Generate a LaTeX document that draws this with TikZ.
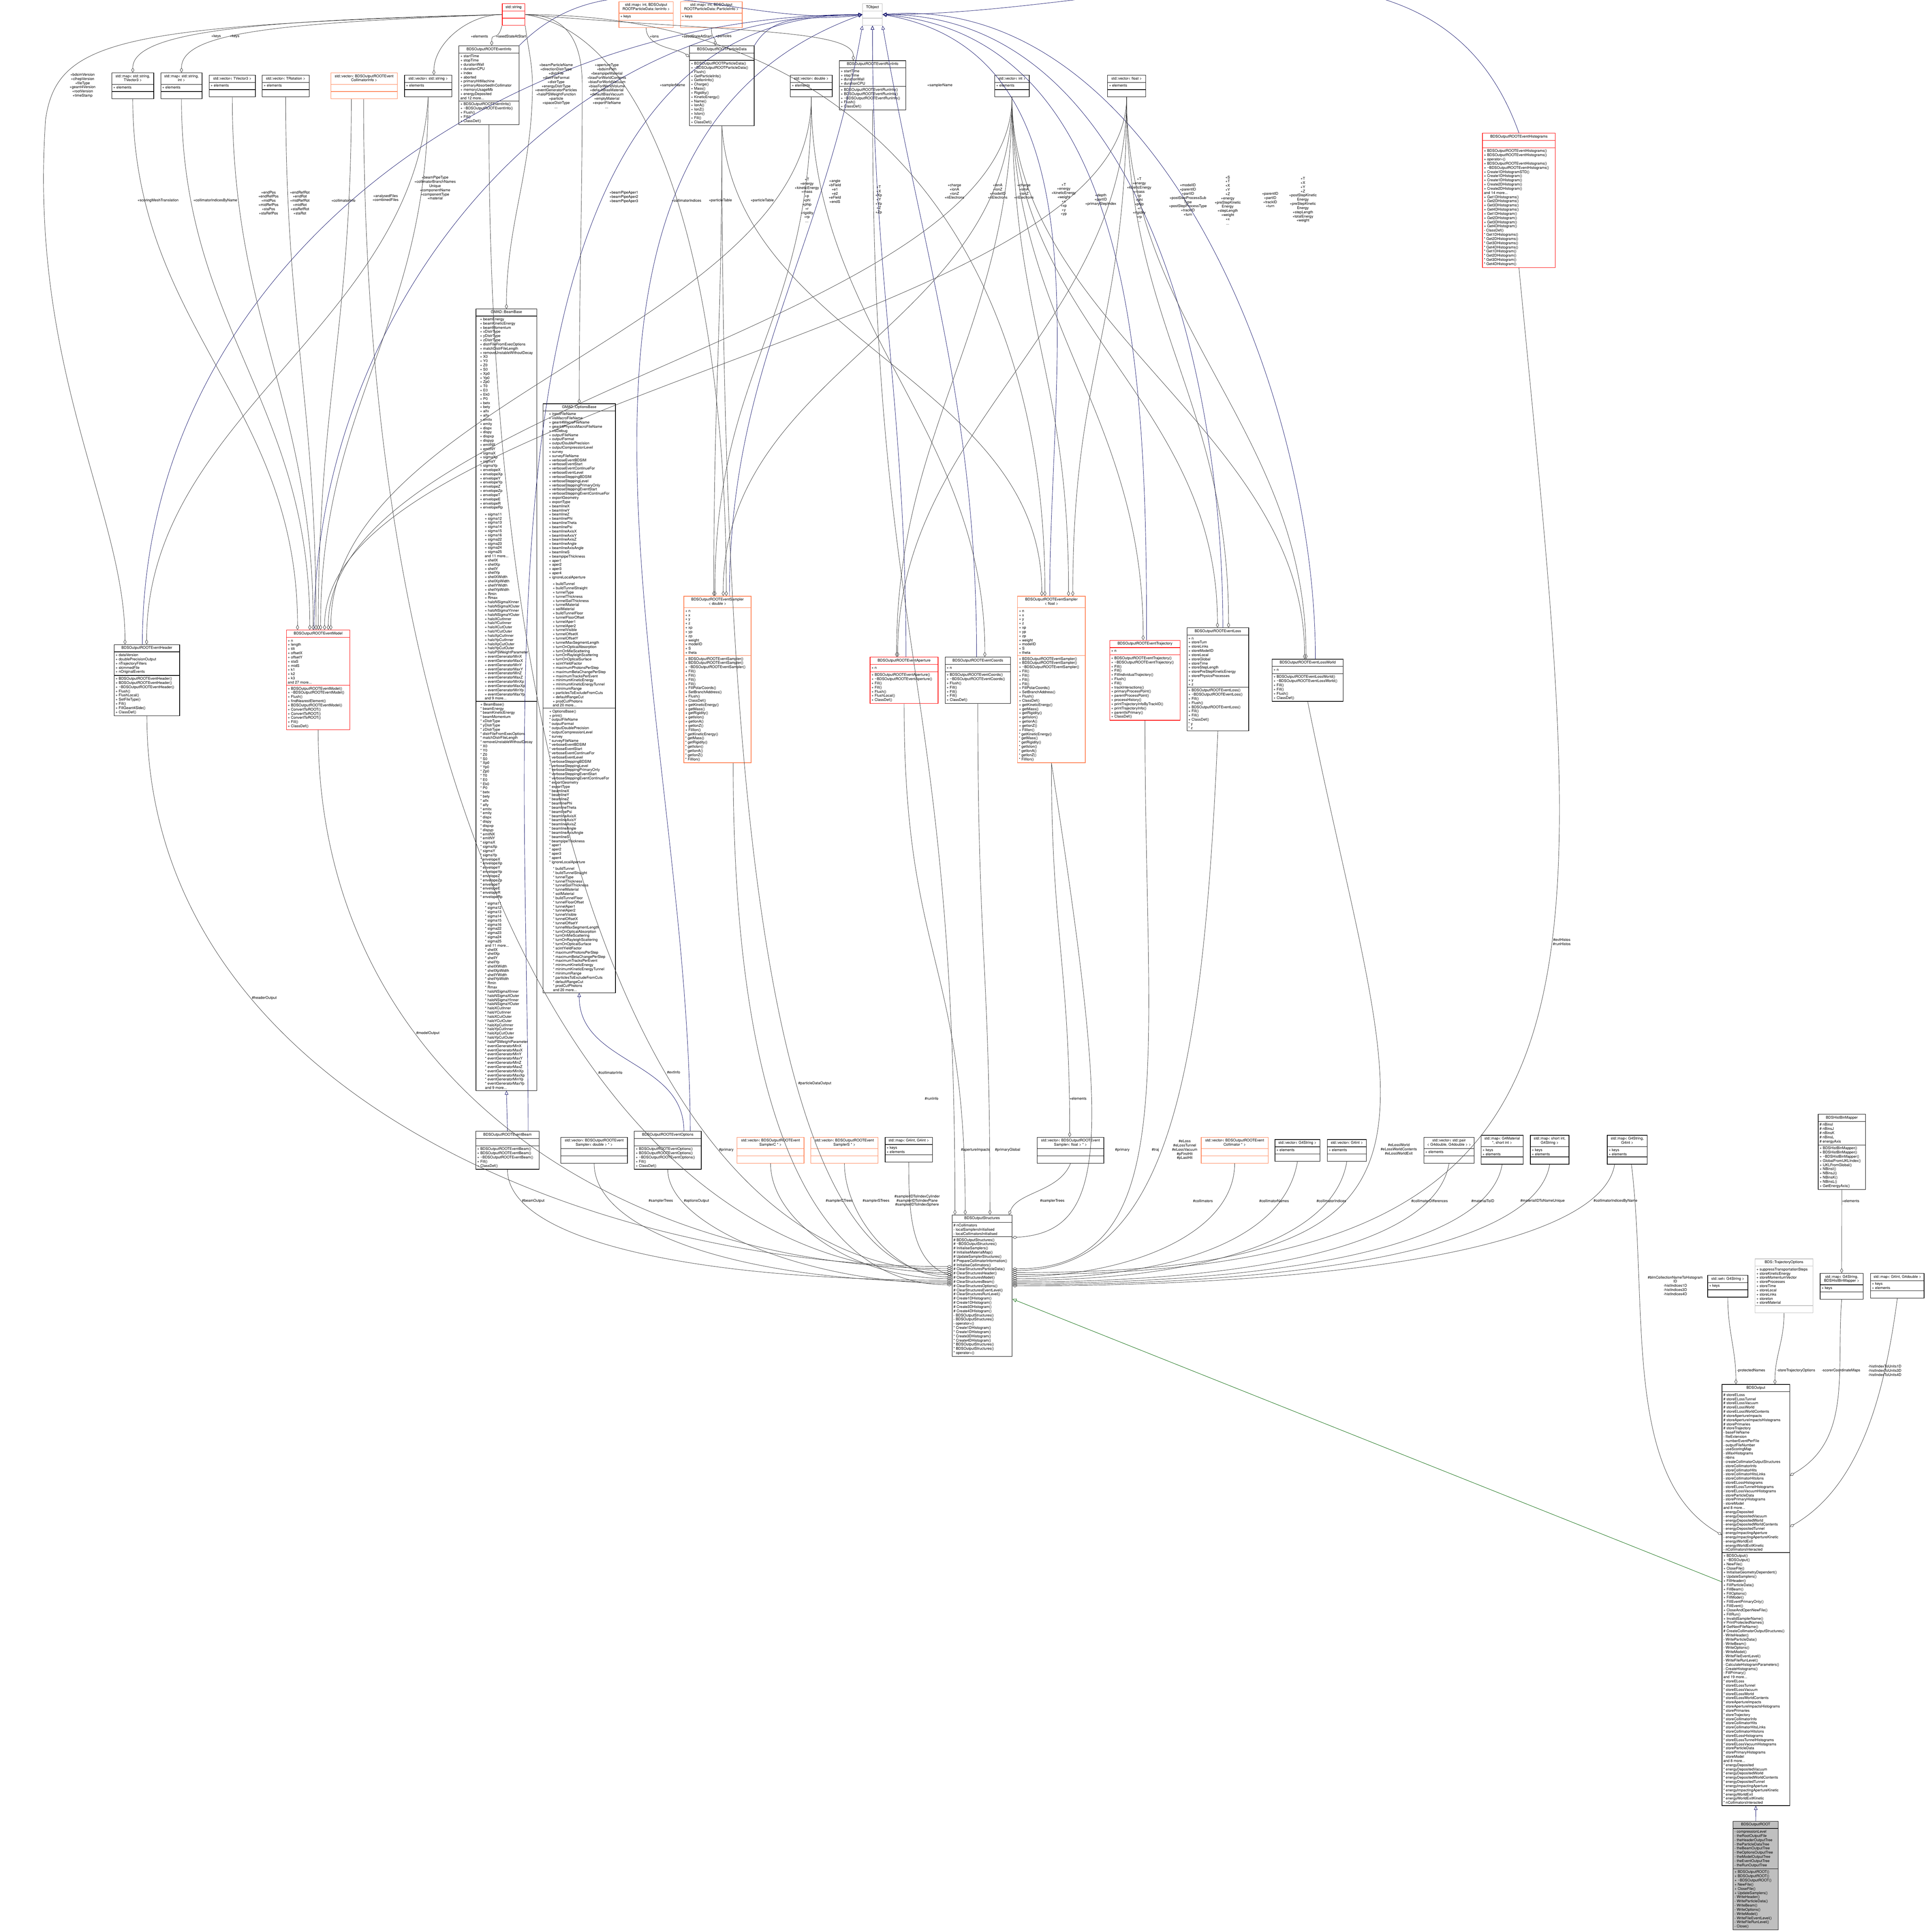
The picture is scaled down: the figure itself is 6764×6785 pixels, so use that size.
\documentclass[tikz,border=0pt]{standalone}
\usepackage{fontspec}
\newfontfamily\umlfont{TeX Gyre Heros}
\usetikzlibrary{shapes.multipart,arrows.meta,calc}

\definecolor{edgeblue}{HTML}{191970}
\definecolor{edgegray}{HTML}{404040}
\definecolor{edgegreen}{HTML}{006400}
\definecolor{boxred}{HTML}{FF0000}
\definecolor{boxorange}{HTML}{FF7F50}
\definecolor{boxgray}{HTML}{BFBFBF}

\newcommand{\dtor}{\textasciitilde}
\newcommand{\twolines}[2]{\begin{tabular}{@{}c@{}}#1\\{}#2\end{tabular}}
% one class box: name, x, y (top left), width, look, title, attributes, operations
\newcommand{\classbox}[8]{%
  \node[umlclass,#5,minimum width={#4*0.01cm}] (#1) at (#2,#3)
    {\strut#6\nodepart{two}\strut#7\nodepart{three}\strut#8};}

% fields of GMAD::BeamBase, in two halves
\newcommand{\beamfieldsA}[1]{#1 beamEnergy\\{}#1 beamKineticEnergy\\{}#1 beamMomentum\\{}#1 xDistrType\\{}#1 yDistrType\\{}#1 zDistrType\\{}#1 distrFileFromExecOptions\\{}#1 matchDistrFileLength\\{}#1 removeUnstableWithoutDecay\\{}#1 X0\\{}#1 Y0\\{}#1 Z0\\{}#1 S0\\{}#1 Xp0\\{}#1 Yp0\\{}#1 Zp0\\{}#1 T0\\{}#1 E0\\{}#1 Ek0\\{}#1 P0\\{}#1 betx\\{}#1 bety\\{}#1 alfx\\{}#1 alfy\\{}#1 emitx\\{}#1 emity\\{}#1 dispx\\{}#1 dispy\\{}#1 dispxp\\{}#1 dispyp\\{}#1 emitNX\\{}#1 emitNY\\{}#1 sigmaX\\{}#1 sigmaXp\\{}#1 sigmaY\\{}#1 sigmaYp\\{}#1 envelopeX\\{}#1 envelopeXp\\{}#1 envelopeY\\{}#1 envelopeYp\\{}#1 envelopeZ\\{}#1 envelopeZp\\{}#1 envelopeT\\{}#1 envelopeE\\{}#1 envelopeR\\{}#1 envelopeRp}
\newcommand{\beamfieldsB}[1]{#1 sigma11\\{}#1 sigma12\\{}#1 sigma13\\{}#1 sigma14\\{}#1 sigma15\\{}#1 sigma16\\{}#1 sigma22\\{}#1 sigma23\\{}#1 sigma24\\{}#1 sigma25\\and 11 more...\\{}#1 shellX\\{}#1 shellXp\\{}#1 shellY\\{}#1 shellYp\\{}#1 shellXWidth\\{}#1 shellXpWidth\\{}#1 shellYWidth\\{}#1 shellYpWidth\\{}#1 Rmin\\{}#1 Rmax\\{}#1 haloNSigmaXInner\\{}#1 haloNSigmaXOuter\\{}#1 haloNSigmaYInner\\{}#1 haloNSigmaYOuter\\{}#1 haloXCutInner\\{}#1 haloYCutInner\\{}#1 haloXCutOuter\\{}#1 haloYCutOuter\\{}#1 haloXpCutInner\\{}#1 haloYpCutInner\\{}#1 haloXpCutOuter\\{}#1 haloYpCutOuter\\{}#1 haloPSWeightParameter\\{}#1 eventGeneratorMinX\\{}#1 eventGeneratorMaxX\\{}#1 eventGeneratorMinY\\{}#1 eventGeneratorMaxY\\{}#1 eventGeneratorMinZ\\{}#1 eventGeneratorMaxZ\\{}#1 eventGeneratorMinXp\\{}#1 eventGeneratorMaxXp\\{}#1 eventGeneratorMinYp\\{}#1 eventGeneratorMaxYp\\and 9 more...}
% fields of GMAD::OptionsBase, in two halves
\newcommand{\optfieldsA}[1]{#1 outputFileName\\{}#1 outputFormat\\{}#1 outputDoublePrecision\\{}#1 outputCompressionLevel\\{}#1 survey\\{}#1 surveyFileName\\{}#1 verboseEventBDSIM\\{}#1 verboseEventStart\\{}#1 verboseEventContinueFor\\{}#1 verboseEventLevel\\{}#1 verboseSteppingBDSIM\\{}#1 verboseSteppingLevel\\{}#1 verboseSteppingPrimaryOnly\\{}#1 verboseSteppingEventStart\\{}#1 verboseSteppingEventContinueFor\\{}#1 exportGeometry\\{}#1 exportType\\{}#1 beamlineX\\{}#1 beamlineY\\{}#1 beamlineZ\\{}#1 beamlinePhi\\{}#1 beamlineTheta\\{}#1 beamlinePsi\\{}#1 beamlineAxisX\\{}#1 beamlineAxisY\\{}#1 beamlineAxisZ\\{}#1 beamlineAngle\\{}#1 beamlineAxisAngle\\{}#1 beamlineS\\{}#1 beampipeThickness\\{}#1 aper1\\{}#1 aper2\\{}#1 aper3\\{}#1 aper4\\{}#1 ignoreLocalAperture}
\newcommand{\optfieldsB}[1]{#1 buildTunnel\\{}#1 buildTunnelStraight\\{}#1 tunnelType\\{}#1 tunnelThickness\\{}#1 tunnelSoilThickness\\{}#1 tunnelMaterial\\{}#1 soilMaterial\\{}#1 buildTunnelFloor\\{}#1 tunnelFloorOffset\\{}#1 tunnelAper1\\{}#1 tunnelAper2\\{}#1 tunnelVisible\\{}#1 tunnelOffsetX\\{}#1 tunnelOffsetY\\{}#1 tunnelMaxSegmentLength\\{}#1 turnOnOpticalAbsorption\\{}#1 turnOnMieScattering\\{}#1 turnOnRayleighScattering\\{}#1 turnOnOpticalSurface\\{}#1 scintYieldFactor\\{}#1 maximumPhotonsPerStep\\{}#1 maximumBetaChangePerStep\\{}#1 maximumTracksPerEvent\\{}#1 minimumKineticEnergy\\{}#1 minimumKineticEnergyTunnel\\{}#1 minimumRange\\{}#1 particlesToExcludeFromCuts\\{}#1 defaultRangeCut\\{}#1 prodCutPhotons\\and 20 more...}
% the sampler template
\newcommand{\samplerattrs}{+ n\\+ x\\+ y\\+ z\\+ xp\\+ yp\\+ zp\\+ weight\\+ modelID\\+ S\\+ theta}
\newcommand{\samplerops}{+ BDSOutputROOTEventSampler()\\+ BDSOutputROOTEventSampler()\\+ \dtor BDSOutputROOTEventSampler()\\+ Fill()\\+ Fill()\\+ Fill()\\+ Fill()\\+ FillPolarCoords()\\+ SetBranchAddress()\\+ Flush()\\+ ClassDef()\\+ getKineticEnergy()\\+ getMass()\\+ getRigidity()\\+ getIsIon()\\+ getIonA()\\+ getIonZ()\\+ FillIon()\\{}* getKineticEnergy()\\{}* getMass()\\{}* getRigidity()\\{}* getIsIon()\\{}* getIonA()\\{}* getIonZ()\\{}* FillIon()}

\begin{document}
\begin{tikzpicture}[x=0.01cm,y=-0.01cm,
    umlclass/.style={rectangle split,rectangle split parts=3,
      rectangle split part align={center,left,left},anchor=north west,
      line width=0.5pt,inner xsep=0.05cm,inner ysep=0.045cm,align=left,
      font=\umlfont\fontsize{3.7pt}{4.18pt}\selectfont},
    chunk/.style={anchor=north west,inner xsep=0.05cm,inner ysep=0.045cm,align=left,
      font=\umlfont\fontsize{3.7pt}{4.18pt}\selectfont},
    plainbox/.style={draw=black},
    redbox/.style={draw=boxred},
    orangebox/.style={draw=boxorange},
    greybox/.style={draw=boxgray},
    rootbox/.style={draw=black,fill=boxgray},
    lbl/.style={font=\umlfont\fontsize{3.7pt}{4.18pt}\selectfont,align=center,inner sep=1pt},
    member/.style={draw=edgegray,line width=0.35pt,-{Diamond[open,length=5pt,width=3pt]}},
    inh/.style={draw=edgeblue,line width=0.35pt,-{Triangle[open,length=4pt,width=3.5pt]}},
    inhprot/.style={draw=edgegreen,line width=0.35pt,-{Triangle[open,length=4pt,width=3.5pt]}}]
\useasboundingbox (0,0) rectangle (6764,6785);
%
% top row
\classbox{str}{1763}{12}{80}{redbox}{std::string}{}{}
\classbox{ionmap}{2173}{5}{191}{orangebox}{\twolines{std::map< int, BDSOutput}{ROOTParticleData::IonInfo >}}{+ keys}{}
\classbox{partmap}{2389}{5}{217}{orangebox}{\twolines{std::map< int, BDSOutput}{ROOTParticleData::ParticleInfo >}}{+ keys}{}
\classbox{tobj}{3029}{12}{69}{greybox}{TObject}{}{}
%
% containers and info classes
\classbox{mapTV3}{392}{255}{147}{plainbox}{\twolines{std::map< std::string,}{TVector3 >}}{+ elements}{}
\classbox{mapSI}{564}{255}{145}{plainbox}{\twolines{std::map< std::string,}{int >}}{+ elements}{}
\classbox{vecTV3}{734}{263}{162}{plainbox}{std::vector< TVector3 >}{+ elements}{}
\classbox{vecTR}{920}{263}{165}{plainbox}{std::vector< TRotation >}{+ elements}{}
\classbox{vecCI}{1161}{255}{234}{orangebox}{\twolines{std::vector< BDSOutputROOTEvent}{CollimatorInfo >}}{}{}
\classbox{vecStr}{1420}{263}{166}{plainbox}{std::vector< std::string >}{+ elements}{}
\classbox{evInfo}{1611}{160}{211}{plainbox}{BDSOutputROOTEventInfo}{+ startTime\\+ stopTime\\+ durationWall\\+ durationCPU\\+ index\\+ aborted\\+ primaryHitMachine\\+ primaryAbsorbedInCollimator\\+ memoryUsageMb\\+ energyDeposited\\and 12 more...}{+ BDSOutputROOTEventInfo()\\+ \dtor BDSOutputROOTEventInfo()\\+ Flush()\\+ Fill()\\+ ClassDef()}
\classbox{partData}{2421}{160}{227}{plainbox}{BDSOutputROOTParticleData}{}{+ BDSOutputROOTParticleData()\\+ \dtor BDSOutputROOTParticleData()\\+ Flush()\\+ GetParticleInfo()\\+ GetIonInfo()\\+ Charge()\\+ Mass()\\+ Rigidity()\\+ KineticEnergy()\\+ Name()\\+ IonA()\\+ IonZ()\\+ IsIon()\\+ Fill()\\+ ClassDef()}
\classbox{vecD}{2775}{263}{147}{plainbox}{std::vector< double >}{+ elements}{}
\classbox{runInfo}{2947}{212}{234}{plainbox}{BDSOutputROOTEventRunInfo}{+ startTime\\+ stopTime\\+ durationWall\\+ durationCPU}{+ BDSOutputROOTEventRunInfo()\\+ BDSOutputROOTEventRunInfo()\\+ \dtor BDSOutputROOTEventRunInfo()\\+ Flush()\\+ ClassDef()}
\classbox{vecI}{3493}{263}{121}{plainbox}{std::vector< int >}{+ elements}{}
\classbox{vecF}{3889}{263}{134}{plainbox}{std::vector< float >}{+ elements}{}
\classbox{hist}{5206}{467}{256}{redbox}{BDSOutputROOTEventHistograms}{}{+ BDSOutputROOTEventHistograms()\\+ BDSOutputROOTEventHistograms()\\+ operator=()\\+ BDSOutputROOTEventHistograms()\\+ \dtor BDSOutputROOTEventHistograms()\\+ Create1DHistogramSTD()\\+ Create1DHistogram()\\+ Create1DHistogram()\\+ Create2DHistogram()\\+ Create2DHistogram()\\and 14 more...\\+ Get1DHistograms()\\+ Get2DHistograms()\\+ Get3DHistograms()\\+ Get4DHistograms()\\+ Get1DHistogram()\\+ Get2DHistogram()\\+ Get3DHistogram()\\+ Get4DHistogram()\\- ClassDef()\\{}* Get1DHistograms()\\{}* Get2DHistograms()\\{}* Get3DHistograms()\\{}* Get4DHistograms()\\{}* Get1DHistogram()\\{}* Get2DHistogram()\\{}* Get3DHistogram()\\{}* Get4DHistogram()}
%
% GMAD::BeamBase, set in pieces
\node[chunk,align=center,minimum width=2.12cm] (bbT) at (1672,1085) {\strut GMAD::BeamBase};
\node[chunk,minimum width=2.12cm] (bbA1) at (bbT.south west) {\strut\beamfieldsA{+}};
\node[chunk,minimum width=2.12cm] (bbA2) at (bbA1.south west) {\strut\beamfieldsB{+}};
\node[chunk,minimum width=2.12cm] (bbO1) at (bbA2.south west) {\strut+ BeamBase()\\\beamfieldsA{*}};
\node[chunk,minimum width=2.12cm] (bbO2) at (bbO1.south west) {\strut\beamfieldsB{*}};
\draw[line width=0.5pt] (bbT.north west) rectangle (bbO2.south east);
\draw[line width=0.5pt] (bbT.south west) -- (bbT.south east);
\draw[line width=0.5pt] (bbA2.south west) -- (bbA2.south east);
%
% GMAD::OptionsBase, set in pieces
\node[chunk,align=center,minimum width=2.53cm] (obT) at (1907,1418) {\strut GMAD::OptionsBase};
\node[chunk,minimum width=2.53cm] (obA1) at (obT.south west) {\strut+ inputFileName\\+ visMacroFileName\\+ geant4MacroFileName\\+ geant4PhysicsMacroFileName\\+ visDebug\\\optfieldsA{+}};
\node[chunk,minimum width=2.53cm] (obA2) at (obA1.south west) {\strut\optfieldsB{+}};
\node[chunk,minimum width=2.53cm] (obO1) at (obA2.south west) {\strut+ OptionsBase()\\+ print()\\\optfieldsA{*}};
\node[chunk,minimum width=2.53cm] (obO2) at (obO1.south west) {\strut\optfieldsB{*}};
\draw[line width=0.5pt] (obT.north west) rectangle (obO2.south east);
\draw[line width=0.5pt] (obT.south west) -- (obT.south east);
\draw[line width=0.5pt] (obA2.south west) -- (obA2.south east);
%
% event level classes
\classbox{header}{400}{2263}{230}{plainbox}{BDSOutputROOTEventHeader}{+ dataVersion\\+ doublePrecisionOutput\\+ nTrajectoryFilters\\+ skimmedFile\\+ nOriginalEvents}{+ BDSOutputROOTEventHeader()\\+ BDSOutputROOTEventHeader()\\+ \dtor BDSOutputROOTEventHeader()\\+ Flush()\\+ FlushLocal()\\+ SetFileType()\\+ Fill()\\+ FillGeant4Side()\\+ ClassDef()}
\classbox{model}{1005}{2212}{223}{redbox}{BDSOutputROOTEventModel}{+ n\\+ length\\+ tilt\\+ offsetX\\+ offsetY\\+ staS\\+ midS\\+ k1\\+ k2\\+ k3\\and 27 more...}{+ BDSOutputROOTEventModel()\\+ \dtor BDSOutputROOTEventModel()\\+ Flush()\\+ findNearestElement()\\+ BDSOutputROOTEventModel()\\+ ConvertToROOT()\\+ ConvertToROOT()\\+ ConvertToROOT()\\+ Fill()\\+ ClassDef()}
\classbox{sampD}{2401}{2093}{236}{orangebox}{\twolines{BDSOutputROOTEventSampler}{< double >}}{\samplerattrs}{\samplerops}
\classbox{aper}{3055}{2307}{239}{redbox}{BDSOutputROOTEventAperture}{+ n}{+ BDSOutputROOTEventAperture()\\+ \dtor BDSOutputROOTEventAperture()\\+ Fill()\\+ Fill()\\+ Flush()\\+ FlushLocal()\\+ ClassDef()}
\classbox{coords}{3319}{2307}{229}{plainbox}{BDSOutputROOTEventCoords}{+ n}{+ BDSOutputROOTEventCoords()\\+ \dtor BDSOutputROOTEventCoords()\\+ Flush()\\+ Fill()\\+ Fill()\\+ Fill()\\+ ClassDef()}
\classbox{sampF}{3573}{2093}{238}{orangebox}{\twolines{BDSOutputROOTEventSampler}{< float >}}{\samplerattrs}{\samplerops}
\classbox{traj}{3897}{2248}{247}{redbox}{BDSOutputROOTEventTrajectory}{+ n}{+ BDSOutputROOTEventTrajectory()\\+ \dtor BDSOutputROOTEventTrajectory()\\+ Fill()\\+ Fill()\\+ FillIndividualTrajectory()\\+ Flush()\\+ Fill()\\+ trackInteractions()\\+ primaryProcessPoint()\\+ parentProcessPoint()\\+ processHistory()\\+ printTrajectoryInfoByTrackID()\\+ printTrajectoryInfo()\\+ parentIsPrimary()\\+ ClassDef()}
\classbox{loss}{4168}{2204}{217}{plainbox}{BDSOutputROOTEventLoss}{+ n\\+ storeTurn\\+ storeLinks\\+ storeModelID\\+ storeLocal\\+ storeGlobal\\+ storeTime\\+ storeStepLength\\+ storePreStepKineticEnergy\\+ storePhysicsProcesses\\+ y\\+ z}{+ BDSOutputROOTEventLoss()\\+ \dtor BDSOutputROOTEventLoss()\\+ Fill()\\+ Flush()\\+ BDSOutputROOTEventLoss()\\+ Fill()\\+ Fill()\\+ ClassDef()\\{}* y\\{}* z}
\classbox{lossW}{4467}{2314}{250}{plainbox}{BDSOutputROOTEventLossWorld}{+ n}{+ BDSOutputROOTEventLossWorld()\\+ \dtor BDSOutputROOTEventLossWorld()\\+ Fill()\\+ Fill()\\+ Flush()\\+ ClassDef()}
%
% lower row
\classbox{evBeam}{1670}{3972}{223}{plainbox}{BDSOutputROOTEventBeam}{}{+ BDSOutputROOTEventBeam()\\+ BDSOutputROOTEventBeam()\\+ \dtor BDSOutputROOTEventBeam()\\+ Fill()\\+ ClassDef()}
\classbox{vecSampD}{1969}{3993}{234}{plainbox}{\twolines{std::vector< BDSOutputROOTEvent}{Sampler< double > * >}}{}{}
\classbox{evOpts}{2227}{3972}{235}{plainbox}{BDSOutputROOTEventOptions}{}{+ BDSOutputROOTEventOptions()\\+ BDSOutputROOTEventOptions()\\+ \dtor BDSOutputROOTEventOptions()\\+ Fill()\\+ ClassDef()}
\classbox{vecSampC}{2588}{3993}{235}{orangebox}{\twolines{std::vector< BDSOutputROOTEvent}{SamplerC * >}}{}{}
\classbox{vecSampS}{2847}{3993}{236}{orangebox}{\twolines{std::vector< BDSOutputROOTEvent}{SamplerS * >}}{}{}
\classbox{mapII}{3108}{3993}{166}{plainbox}{std::map< G4int, G4int >}{+ keys\\+ elements}{}
\classbox{vecSampF}{3642}{3993}{234}{plainbox}{\twolines{std::vector< BDSOutputROOTEvent}{Sampler< float > * >}}{}{}
\classbox{vecColl}{4218}{3993}{235}{orangebox}{\twolines{std::vector< BDSOutputROOTEvent}{Collimator * >}}{}{}
\classbox{vecG4S}{4477}{4001}{158}{plainbox}{std::vector< G4String >}{+ elements}{}
\classbox{vecG4I}{4661}{4001}{137}{plainbox}{std::vector< G4int >}{+ elements}{}
\classbox{vecPair}{5000}{3993}{177}{plainbox}{\twolines{std::vector< std::pair}{< G4double, G4double > >}}{+ elements}{}
\classbox{mapMat}{5201}{3986}{148}{plainbox}{\twolines{std::map< G4Material}{*, short int >}}{+ keys\\+ elements}{}
\classbox{mapShort}{5374}{3986}{136}{plainbox}{\twolines{std::map< short int,}{G4String >}}{+ keys\\+ elements}{}
\classbox{mapSI4}{5644}{3986}{141}{plainbox}{\twolines{std::map< G4String,}{G4int >}}{+ keys\\+ elements}{}
\classbox{binMap}{6385}{3912}{166}{plainbox}{BDSHistBinMapper}{\# nBinsI\\\# nBinsJ\\\# nBinsK\\\# nBinsL\\\# energyAxis}{+ BDSHistBinMapper()\\+ BDSHistBinMapper()\\+ \dtor BDSHistBinMapper()\\+ GlobalFromIJKLIndex()\\+ IJKLFromGlobal()\\+ NBinsI()\\+ NBinsJ()\\+ NBinsK()\\+ NBinsL()\\+ GetEnergyAxis()}
\classbox{setS}{5997}{4478}{141}{plainbox}{std::set< G4String >}{+ keys}{}
\classbox{trajOpt}{6163}{4420}{204}{greybox}{BDS::TrajectoryOptions}{+ suppressTransportationSteps\\+ storeKineticEnergy\\+ storeMomentumVector\\+ storeProcesses\\+ storeTime\\+ storeLocal\\+ storeLinks\\+ storeIon\\+ storeMaterial}{}
\classbox{mapBHM}{6392}{4471}{151}{plainbox}{\twolines{std::map< G4String,}{BDSHistBinMapper >}}{+ keys}{}
\classbox{mapID}{6569}{4471}{188}{plainbox}{std::map< G4int, G4double >}{+ keys\\+ elements}{}
%
% output classes
\classbox{struct}{3343}{4266}{211}{plainbox}{BDSOutputStructures}{\# nCollimators\\- localSamplersInitialised\\- localCollimatorsInitialised}{\# BDSOutputStructures()\\\# \dtor BDSOutputStructures()\\\# InitialiseSamplers()\\\# InitialiseMaterialMap()\\\# UpdateSamplerStructures()\\\# PrepareCollimatorInformation()\\\# InitialiseCollimators()\\\# ClearStructuresParticleData()\\\# ClearStructuresHeader()\\\# ClearStructuresModel()\\\# ClearStructuresBeam()\\\# ClearStructuresOptions()\\\# ClearStructuresEventLevel()\\\# ClearStructuresRunLevel()\\\# Create1DHistogram()\\\# Create1DHistogram()\\\# Create3DHistogram()\\\# Create4DHistogram()\\- BDSOutputStructures()\\- BDSOutputStructures()\\- operator=()\\{}* Create1DHistogram()\\{}* Create1DHistogram()\\{}* Create3DHistogram()\\{}* Create4DHistogram()\\{}* BDSOutputStructures()\\{}* BDSOutputStructures()\\{}* operator=()}
\classbox{output}{6047}{4861}{238}{plainbox}{BDSOutput}{\# storeELoss\\\# storeELossTunnel\\\# storeELossVacuum\\\# storeELossWorld\\\# storeELossWorldContents\\\# storeApertureImpacts\\\# storeApertureImpactsHistograms\\\# storePrimaries\\\# storeTrajectory\\- baseFileName\\- fileExtension\\- numberEventPerFile\\- outputFileNumber\\- useScoringMap\\- sMaxHistograms\\- nbins\\- createCollimatorOutputStructures\\- storeCollimatorInfo\\- storeCollimatorHits\\- storeCollimatorHitsLinks\\- storeCollimatorHitsIons\\- storeELossHistograms\\- storeELossTunnelHistograms\\- storeELossVacuumHistograms\\- storeParticleData\\- storePrimaryHistograms\\- storeModel\\and 8 more...\\- energyDeposited\\- energyDepositedVacuum\\- energyDepositedWorld\\- energyDepositedWorldContents\\- energyDepositedTunnel\\- energyImpactingAperture\\- energyImpactingApertureKinetic\\- energyWorldExit\\- energyWorldExitKinetic\\- nCollimatorsInteracted}{+ BDSOutput()\\+ \dtor BDSOutput()\\+ NewFile()\\+ CloseFile()\\+ InitialiseGeometryDependent()\\+ UpdateSamplers()\\+ FillHeader()\\+ FillParticleData()\\+ FillBeam()\\+ FillOptions()\\+ FillModel()\\+ FillEventPrimaryOnly()\\+ FillEvent()\\+ CloseAndOpenNewFile()\\+ FillRun()\\+ InvalidSamplerName()\\+ PrintProtectedNames()\\\# GetNextFileName()\\\# CreateCollimatorOutputStructures()\\- WriteHeader()\\- WriteParticleData()\\- WriteBeam()\\- WriteOptions()\\- WriteModel()\\- WriteFileEventLevel()\\- WriteFileRunLevel()\\- CalculateHistogramParameters()\\- CreateHistograms()\\- FillPrimary()\\and 19 more...\\{}* storeELoss\\{}* storeELossTunnel\\{}* storeELossVacuum\\{}* storeELossWorld\\{}* storeELossWorldContents\\{}* storeApertureImpacts\\{}* storeApertureImpactsHistograms\\{}* storePrimaries\\{}* storeTrajectory\\{}* storeCollimatorInfo\\{}* storeCollimatorHits\\{}* storeCollimatorHitsLinks\\{}* storeCollimatorHitsIons\\{}* storeELossHistograms\\{}* storeELossTunnelHistograms\\{}* storeELossVacuumHistograms\\{}* storeParticleData\\{}* storePrimaryHistograms\\{}* storeModel\\and 8 more...\\{}* energyDeposited\\{}* energyDepositedVacuum\\{}* energyDepositedWorld\\{}* energyDepositedWorldContents\\{}* energyDepositedTunnel\\{}* energyImpactingAperture\\{}* energyImpactingApertureKinetic\\{}* energyWorldExit\\{}* energyWorldExitKinetic\\{}* nCollimatorsInteracted}
\classbox{outRoot}{6086}{6395}{159}{rootbox}{BDSOutputROOT}{- compressionLevel\\- theRootOutputFile\\- theHeaderOutputTree\\- theParticleDataTree\\- theBeamOutputTree\\- theOptionsOutputTree\\- theModelOutputTree\\- theEventOutputTree\\- theRunOutputTree}{+ BDSOutputROOT()\\+ BDSOutputROOT()\\+ \dtor BDSOutputROOT()\\+ NewFile()\\+ CloseFile()\\+ UpdateSamplers()\\- WriteHeader()\\- WriteParticleData()\\- WriteBeam()\\- WriteOptions()\\- WriteModel()\\- WriteFileEventLevel()\\- WriteFileRunLevel()\\- Close()}
%
% inheritance
\draw[inh] ($(header.north west)+(100,0)$) .. controls +(0,-1300) and +(-1300,0) .. (tobj.west);
\draw[inh] ($(model.north west)+(98,0)$) .. controls +(0,-1100) and +(-1100,0) .. (tobj.west);
\draw[inh] (evInfo.north east) .. controls +(330,-330) and +(-470,40) .. (tobj.west);
\draw[inh] (partData.north east) .. controls +(75,-130) and +(-150,25) .. (tobj.west);
\draw[inh] (runInfo.north) -- (tobj.south);
\draw[inh] (hist.north) .. controls +(-300,-840) and +(890,0) .. (tobj.east);
\draw[inh] ($(sampD.north west)+(161,0)$) .. controls +(0,-800) and +(-140,800) .. (tobj.south west);
\draw[inh] ($(aper.north west)+(127,0)$) .. controls +(0,-870) and +(0,870) .. (tobj.south);
\draw[inh] ($(coords.north west)+(111,0)$) .. controls +(0,-870) and +(150,850) .. (tobj.south east);
\draw[inh] ($(sampF.north west)+(114,0)$) .. controls +(0,-820) and +(800,140) .. (tobj.east);
\draw[inh] ($(traj.north west)+(130,0)$) .. controls +(0,-900) and +(900,80) .. (tobj.east);
\draw[inh] ($(loss.north west)+(127,0)$) .. controls +(0,-900) and +(900,0) .. (tobj.east);
\draw[inh] ($(lossW.north west)+(153,0)$) .. controls +(0,-950) and +(950,-80) .. (tobj.east);
\draw[inh] (evBeam.north) -- (bbO2.south);
\draw[inh] ($(evBeam.north west)+(185,0)$) .. controls +(0,-1500) and +(-1400,0) .. (tobj.west);
\draw[inh] ($(evOpts.north west)+(175,0)$) .. controls +(0,-250) and +(0,250) .. (obO2.south);
\draw[inh] ($(evOpts.north west)+(197,0)$) .. controls +(0,-1450) and +(-1300,470) .. (tobj.west);
\draw[inh] (outRoot.north) -- (output.south);
\draw[inhprot] ($(output.north west)+(0,694)$) -- ($(struct.north east)+(0,296)$);
%
% members of the top row
\draw[member] (str.west) .. controls +(-120,0) and +(0,-110) .. ($(vecStr.north west)+(104,0)$);
\node[lbl] (lbElem) at (1684,128) {+elements};
\draw[member] (str.south west) .. controls +(-15,60) and +(0,-50) .. ($(evInfo.north west)+(116,0)$);
\node[lbl] (lbSeedInfo) at (1795,128) {+seedStateAtStart};
\draw[member] (str.east) .. controls +(700,60) and +(0,-110) .. ($(runInfo.north west)+(50,0)$);
\node[lbl] (lbSeedRun) at (2447,128) {+seedStateAtStart};
\draw[member] (ionmap.south) .. controls +(0,70) and +(-40,-30) .. ($(partData.north west)+(0,40)$);
\node[lbl] (lbIons) at (2298,128) {+ions};
\draw[member] (partmap.south) .. controls +(0,40) and +(0,-30) .. ($(partData.north west)+(91,0)$);
\node[lbl] (lbParticles) at (2541,128) {+particles};
\draw[member] (str.west) .. controls +(-900,20) and +(0,-140) .. (mapTV3.north);
\node[lbl] (lbKeysA) at (759,128) {+keys};
\draw[member] (str.west) .. controls +(-800,30) and +(0,-140) .. (mapSI.north);
\node[lbl] (lbKeysB) at (824,128) {+keys};
\draw[member] (str.west) .. controls (420,90) and (200,140) .. (160,420) .. controls (100,1300) and (439,1800) .. ($(header.north west)+(39,0)$);
\node[lbl] (lbVersions) at (290,300) {+bdsimVersion\\+clhepVersion\\+fileType\\+geant4Version\\+rootVersion\\+timeStamp};
\draw[member] (str.south east) .. controls +(10,80) and +(0,-80) .. (1870,300) .. controls +(0,300) and +(0,-300) .. (bbT.north);
\node[lbl] (lbBeamStr) at (1953,302) {+beamParticleName\\+directionDistrType\\+distrFile\\+distrFileFormat\\+distrType\\+energyDistrType\\+eventGeneratorParticles\\+haloPSWeightFunction\\+particle\\+spaceDistrType\\...};
\draw[member] (str.east) .. controls +(150,0) and +(0,-150) .. (2045,300) .. controls +(0,400) and +(0,-400) .. (obT.north);
\node[lbl] (lbOptStr) at (2131,302) {+apertureType\\+bdsimPath\\+beampipeMaterial\\+biasForWorldContents\\+biasForWorldVacuum\\+biasForWorldVolume\\+defaultBiasMaterial\\+defaultBiasVacuum\\+emptyMaterial\\+exportFileName\\...};
\draw[member] (str.east) .. controls +(500,80) and +(0,-1000) .. ($(sampD.north west)+(150,0)$);
\node[lbl] (lbSampNameD) at (2362,300) {+samplerName};
\draw[member] (str.east) .. controls +(1200,0) and +(0,-1200) .. ($(sampF.north west)+(97,0)$);
\node[lbl] (lbSampNameF) at (3301,300) {+samplerName};
%
% members of the model, samplers and losses
\draw[member] (mapTV3.south) .. controls +(0,800) and +(0,-800) .. ($(model.north west)+(40,0)$);
\node[lbl] (lbMesh) at (555,705) {+scoringMeshTranslation};
\draw[member] (mapSI.south) .. controls +(0,800) and +(0,-800) .. ($(model.north west)+(83,0)$);
\node[lbl] (lbCollByName) at (756,705) {+collimatorIndicesByName};
\draw[member] (vecTV3.south) .. controls +(0,800) and +(0,-800) .. ($(model.north west)+(95,0)$);
\node[lbl] (lbPos) at (943,712) {+endPos\\+endRefPos\\+midPos\\+midRefPos\\+staPos\\+staRefPos};
\draw[member] (vecTR.south) .. controls +(0,800) and +(0,-800) .. ($(model.north west)+(105,0)$);
\node[lbl] (lbRot) at (1053,712) {+endRefRot\\+endRot\\+midRefRot\\+midRot\\+staRefRot\\+staRot};
\draw[member] ($(vecCI.south west)+(73,0)$) .. controls +(0,800) and +(0,-800) .. ($(model.north west)+(113,0)$);
\node[lbl] (lbCollInfo) at (1206,705) {+collimatorInfo};
\draw[member] (vecStr.south) .. controls +(0,800) and +(0,-800) .. ($(model.north west)+(121,0)$);
\node[lbl] (lbModelStr) at (1528,660) {+beamPipeType\\+collimatorBranchNames\\Unique\\+componentName\\+componentType\\+material};
\draw[member] (vecStr.south) .. controls +(-50,800) and +(0,-800) .. ($(header.north west)+(115,0)$);
\node[lbl] (lbFiles) at (1354,695) {+analysedFiles\\+combinedFiles};
\draw[member] (vecD.south) .. controls +(0,800) and +(0,-800) .. ($(model.north west)+(157,0)$);
\node[lbl] (lbPipeAper) at (2191,692) {+beamPipeAper1\\+beamPipeAper2\\+beamPipeAper3};
\draw[member] (vecI.south) .. controls +(0,800) and +(0,-800) .. ($(model.north west)+(148,0)$);
\node[lbl] (lbCollIdx) at (2411,705) {+collimatorIndices};
\draw[member] (vecF.south) .. controls +(0,800) and +(0,-800) .. ($(model.north west)+(135,0)$);
\node[lbl] (lbAngle) at (2932,672) {+angle\\+bField\\+e1\\+e2\\+eField\\+endS};
\draw[member] (partData.south) .. controls +(0,750) and +(0,-750) .. ($(sampD.north west)+(106,0)$);
\node[lbl] (lbTableD) at (2530,705) {+particleTable};
\draw[member] (partData.south) .. controls +(50,750) and +(0,-750) .. ($(sampF.north west)+(86,0)$);
\node[lbl] (lbTableF) at (2677,705) {+particleTable};
\draw[member] (vecD.south) .. controls +(0,800) and +(0,-800) .. ($(sampD.north west)+(110,0)$);
\node[lbl] (lbKinD) at (2834,703) {+T\\+energy\\+kineticEnergy\\+mass\\+p\\+phi\\+phip\\+r\\+rigidity\\+rp\\...};
\draw[member] (vecI.south) .. controls +(0,800) and +(0,-800) .. ($(sampD.north west)+(139,0)$);
\node[lbl] (lbIonD) at (3352,672) {+charge\\+ionA\\+ionZ\\+nElectrons};
\draw[member] (vecD.south) .. controls +(0,800) and +(0,-800) .. ($(coords.north west)+(140,0)$);
\node[lbl] (lbCoords) at (3086,702) {+T\\+X\\+Xp\\+Y\\+Yp\\+Z\\+Zp};
\draw[member] (vecI.south) .. controls +(0,800) and +(0,-800) .. ($(aper.north west)+(94,0)$);
\node[lbl] (lbIonAper) at (3504,672) {+ionA\\+ionZ\\+modelID\\+nElectrons};
\draw[member] (vecF.south) .. controls +(0,800) and +(0,-800) .. ($(aper.north west)+(98,0)$);
\node[lbl] (lbAperF) at (3736,701) {+T\\+energy\\+kineticEnergy\\+weight\\+x\\+xp\\+y\\+yp};
\draw[member] (vecI.south) .. controls +(0,800) and +(0,-800) .. ($(sampF.north west)+(180,0)$);
\node[lbl] (lbIonF) at (3596,672) {+charge\\+ionA\\+ionZ\\+nElectrons};
\draw[member] (vecF.south) .. controls +(0,800) and +(0,-800) .. ($(sampF.north west)+(195,0)$);
\node[lbl] (lbKinF) at (4001,702) {+T\\+energy\\+kineticEnergy\\+mass\\+p\\+phi\\+phip\\+r\\+rigidity\\+rp\\...};
\draw[member] (vecI.south) .. controls +(0,800) and +(0,-800) .. ($(traj.north west)+(118,0)$);
\node[lbl] (lbTrajI) at (3866,702) {+depth\\+partID\\+primaryStepIndex};
\draw[member] (vecI.south) .. controls +(0,800) and +(0,-800) .. ($(loss.north west)+(108,0)$);
\node[lbl] (lbLossI) at (4172,702) {+modelID\\+parentID\\+partID\\+postStepProcessSub\\Type\\+postStepProcessType\\+trackID\\+turn};
\draw[member] (vecF.south) .. controls +(0,800) and +(0,-800) .. ($(loss.north west)+(147,0)$);
\node[lbl] (lbLossF) at (4312,703) {+S\\+T\\+X\\+Y\\+Z\\+energy\\+preStepKinetic\\Energy\\+stepLength\\+weight\\+x\\...};
\draw[member] (vecI.south) .. controls +(0,800) and +(0,-800) .. ($(lossW.north west)+(115,0)$);
\node[lbl] (lbWorldI) at (4461,702) {+parentID\\+partID\\+trackID\\+turn};
\draw[member] (vecF.south) .. controls +(0,800) and +(0,-800) .. ($(lossW.north west)+(120,0)$);
\node[lbl] (lbWorldF) at (4576,702) {+T\\+X\\+Y\\+Z\\+postStepKinetic\\Energy\\+preStepKinetic\\Energy\\+stepLength\\+totalEnergy\\+weight};
\draw[member] (sampF.south) .. controls +(0,600) and +(0,-600) .. ($(vecSampF.north west)+(115,0)$);
\node[lbl] (lbSampElem) at (3786,3858) {+elements};
%
% members of BDSOutputStructures
\draw[member] (header.south) .. controls +(0,1300) and +(-1300,0) .. ($(struct.north west)+(0,182)$) node[lbl,pos=0.3,right] (lbHdrOut) {\#headerOutput};
\draw[member] (model.south) .. controls +(0,1200) and +(-1200,0) .. ($(struct.north west)+(0,189)$) node[lbl,pos=0.35,right] (lbModOut) {\#modelOutput};
\draw[member] (evInfo.south) .. controls +(0,2500) and +(-1000,0) .. ($(struct.north west)+(0,196)$) node[lbl,pos=0.6,right] (lbEvtInfo) {\#evtInfo};
\draw[member] ($(vecCI.south west)+(116,0)$) .. controls +(0,2600) and +(-1200,0) .. ($(struct.north west)+(0,203)$) node[lbl,pos=0.6,right] (lbCollInfoS) {\#collimatorInfo};
\draw[member] (partData.south) .. controls +(0,2600) and +(-600,0) .. ($(struct.north west)+(0,210)$) node[lbl,pos=0.6,right] (lbPartOut) {\#particleDataOutput};
\draw[member] (evBeam.south) .. controls +(0,250) and +(-900,0) .. ($(struct.north west)+(0,230)$);
\node[lbl] (lbBeamOut) at (1873,4217) {\#beamOutput};
\draw[member] (vecSampD.south) .. controls +(0,250) and +(-700,0) .. ($(struct.north west)+(0,236)$);
\node[lbl] (lbSampTrees) at (2321,4217) {\#samplerTrees};
\draw[member] (evOpts.south) .. controls +(0,200) and +(-500,0) .. ($(struct.north west)+(0,241)$);
\node[lbl] (lbOptOut) at (2446,4217) {\#optionsOutput};
\draw[member] ($(sampD.south west)+(174,0)$) .. controls +(0,1200) and +(-500,0) .. ($(struct.north west)+(0,246)$);
\node[lbl] (lbPrimary) at (2551,4038) {\#primary};
\draw[member] (vecSampC.south) .. controls +(0,200) and +(-350,0) .. ($(struct.north west)+(0,224)$);
\node[lbl] (lbCTrees) at (2948,4217) {\#samplerCTrees};
\draw[member] (vecSampS.south) .. controls +(0,180) and +(-200,0) .. ($(struct.north west)+(0,218)$);
\node[lbl] (lbSTrees) at (3077,4217) {\#samplerSTrees};
\draw[member] (mapII.south) .. controls +(0,150) and +(-150,-50) .. ($(struct.north west)+(0,214)$);
\node[lbl] (lbIdxMap) at (3221,4217) {\#samplerIDToIndexCylinder\\\#samplerIDToIndexPlane\\\#samplerIDToIndexSphere};
\draw[member] (runInfo.south) .. controls +(0,1900) and +(0,-1900) .. ($(struct.north west)+(11,0)$);
\node[lbl] (lbRunInfo) at (3272,3858) {\#runInfo};
\draw[member] (aper.south) .. controls +(0,900) and +(0,-900) .. ($(struct.north west)+(47,0)$);
\node[lbl] (lbAperImp) at (3426,4038) {\#apertureImpacts};
\draw[member] (coords.south) .. controls +(0,900) and +(0,-900) .. ($(struct.north west)+(134,0)$);
\node[lbl] (lbPrimGlob) at (3539,4038) {\#primaryGlobal};
\draw[member] (vecSampF.south) .. controls +(-40,100) and +(30,-80) .. ($(struct.north east)+(-12,0)$);
\node[lbl] (lbSampTreesF) at (3696,4218) {\#samplerTrees};
\draw[member] (sampF.south) .. controls +(200,1300) and +(350,-20) .. ($(struct.north east)+(0,80)$);
\node[lbl] (lbPrimaryF) at (3942,4038) {\#primary};
\draw[member] (traj.south) .. controls +(0,1200) and +(600,0) .. ($(struct.north east)+(0,190)$);
\node[lbl] (lbTraj) at (4058,4038) {\#traj};
\draw[member] (loss.south) .. controls +(-50,1200) and +(550,0) .. ($(struct.north east)+(0,196)$);
\node[lbl] (lbELoss) at (4161,4038) {\#eLoss\\\#eLossTunnel\\\#eLossVacuum\\\#pFirstHit\\\#pLastHit};
\draw[member] (lossW.south) .. controls +(300,1500) and +(1700,0) .. ($(struct.north east)+(0,203)$);
\node[lbl] (lbEWorld) at (4913,4036) {\#eLossWorld\\\#eLossWorldContents\\\#eLossWorldExit};
\draw[member] (hist.south) .. controls +(250,2600) and +(2200,0) .. ($(struct.north east)+(0,210)$) node[lbl,pos=0.4,right] (lbHistos) {\#evtHistos\\\#runHistos};
\draw[member] (vecColl.south) .. controls +(0,250) and +(400,0) .. ($(struct.north east)+(0,217)$);
\node[lbl] (lbColls) at (4225,4218) {\#collimators};
\draw[member] (vecG4S.south) .. controls +(-50,300) and +(500,0) .. ($(struct.north east)+(0,224)$);
\node[lbl] (lbCollNames) at (4475,4218) {\#collimatorNames};
\draw[member] (vecG4I.south) .. controls +(-50,300) and +(600,0) .. ($(struct.north east)+(0,230)$);
\node[lbl] (lbCollIdxS) at (4676,4218) {\#collimatorIndices};
\draw[member] (vecPair.south) .. controls +(-50,300) and +(800,0) .. ($(struct.north east)+(0,236)$);
\node[lbl] (lbCollDiff) at (5021,4218) {\#collimatorDifferences};
\draw[member] (mapMat.south) .. controls +(-50,300) and +(900,0) .. ($(struct.north east)+(0,241)$);
\node[lbl] (lbMatID) at (5208,4218) {\#materialToID};
\draw[member] (mapShort.south) .. controls +(-50,300) and +(1000,0) .. ($(struct.north east)+(0,246)$);
\node[lbl] (lbMatName) at (5418,4218) {\#materialIDToNameUnique};
\draw[member] ($(mapSI4.south west)+(27,0)$) .. controls +(-50,300) and +(1100,0) .. ($(struct.north east)+(0,250)$);
\node[lbl] (lbCollByNameS) at (5674,4218) {\#collimatorIndicesByName};
%
% members of BDSOutput
\draw[member] (binMap.south) -- (mapBHM.north);
\node[lbl] (lbBinElem) at (6500,4218) {+elements};
\draw[member] ($(mapSI4.south west)+(86,0)$) .. controls +(60,500) and +(-350,-200) .. ($(output.north west)+(0,529)$);
\node[lbl] (lbBlm) at (5884,4515) {\#blmCollectionNameToHistogram\\ID\\-histIndices1D\\-histIndices3D\\-histIndices4D};
\draw[member] (setS.south) .. controls +(0,120) and +(0,-120) .. ($(output.north west)+(50,0)$);
\node[lbl] (lbProt) at (6150,4813) {-protectedNames};
\draw[member] (trajOpt.south) .. controls +(0,100) and +(0,-100) .. ($(output.north west)+(187,0)$);
\node[lbl] (lbTrajOpt) at (6308,4813) {-storeTrajectoryOptions};
\draw[member] (mapBHM.south) .. controls +(-20,250) and +(220,-125) .. ($(output.north east)+(0,321)$);
\node[lbl] (lbScorer) at (6466,4813) {-scorerCoordinateMaps};
\draw[member] (mapID.south) .. controls +(-40,300) and +(260,-150) .. ($(output.north east)+(0,501)$);
\node[lbl] (lbUnits) at (6620,4813) {-histIndexToUnits1D\\-histIndexToUnits3D\\-histIndexToUnits4D};
\end{tikzpicture}
\end{document}
